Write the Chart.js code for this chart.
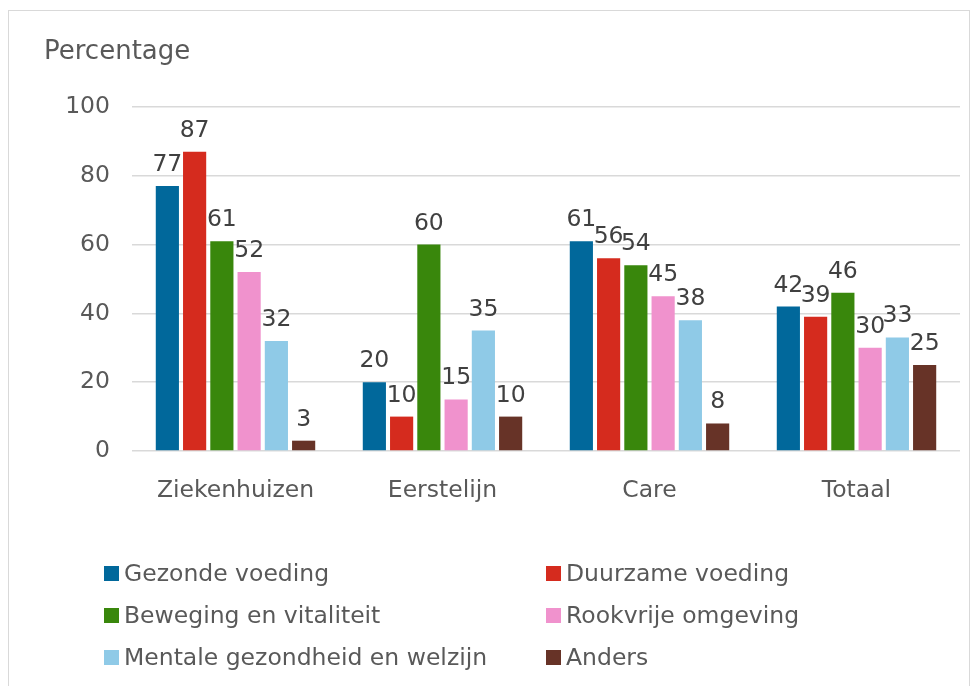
<!DOCTYPE html>
<html>
<head>
<meta charset="utf-8">
<script src="https://cdn.jsdelivr.net/npm/chart.js@4"></script>
<style>
  body { margin: 0; background: #fff; font-family: "DejaVu Sans", sans-serif; color: #595959; }
  #wrap { position: relative; width: 978px; height: 686px; overflow: hidden; }
  #frame { position: absolute; left: 8px; top: 10px; width: 960px; height: 700px; border: 1px solid #d9d9d9; pointer-events: none; }
  #title { position: absolute; left: 44px; top: 35px; font-size: 26px; line-height: 30px; }
  .item { position: absolute; display: flex; align-items: center; font-size: 23.5px; line-height: 28px; white-space: nowrap; }
  .item span.box { display: inline-block; width: 15px; height: 15px; margin-right: 5px; }
</style>
</head>
<body>
<div id="wrap">
  <canvas id="chart" width="978" height="686"></canvas>
  <div id="frame"></div>
  <div id="title">Percentage</div>
  <div id="legend"></div>
</div>
<script>
const categories = ["Ziekenhuizen", "Eerstelijn", "Care", "Totaal"];
const seriesNames = ["Gezonde voeding", "Duurzame voeding", "Beweging en vitaliteit",
  "Rookvrije omgeving", "Mentale gezondheid en welzijn", "Anders"];
const gezondeVoeding = [77, 20, 61, 42];
const duurzameVoeding = [87, 10, 56, 39];
const beweging = [61, 60, 54, 46];
const rookvrij = [52, 15, 45, 30];
const mentaal = [32, 35, 38, 33];
const anders = [3, 10, 8, 25];
const colors = ["#01689b", "#d52b1e", "#39870c", "#f092cd", "#8fcae7", "#673327"];
const yTicks = [0, 20, 40, 60, 80, 100];

const allValues = [gezondeVoeding, duurzameVoeding, beweging, rookvrij, mentaal, anders];

// labels above bars
const barLabels = {
  id: "barLabels",
  afterDatasetsDraw(chart) {
    const ctx = chart.ctx;
    ctx.save();
    ctx.font = "23.5px 'DejaVu Sans'";
    ctx.fillStyle = "#404040";
    ctx.textAlign = "center";
    ctx.textBaseline = "alphabetic";
    chart.data.datasets.forEach((ds, i) => {
      chart.getDatasetMeta(i).data.forEach((bar, j) => {
        ctx.fillText(String(ds.data[j]), bar.x, bar.y - 15);
      });
    });
    ctx.restore();
  }
};

new Chart(document.getElementById("chart"), {
  type: "bar",
  data: {
    labels: categories,
    datasets: seriesNames.map((name, i) => ({
      label: name,
      data: allValues[i],
      backgroundColor: colors[i],
      categoryPercentage: 0.79,
      barPercentage: 0.85
    }))
  },
  options: {
    responsive: false,
    animation: false,
    layout: { padding: { top: 107, right: 18, left: 0, bottom: 0 } },
    plugins: { legend: { display: false }, tooltip: { enabled: false } },
    scales: {
      x: {
        grid: { display: false },
        border: { display: false },
        ticks: { color: "#595959", font: { family: "DejaVu Sans", size: 23.5 }, padding: 18 },
        afterFit(scale) { scale.height = 235; }
      },
      y: {
        min: 0, max: 100,
        afterBuildTicks(scale) { scale.ticks = yTicks.map(v => ({ value: v })); },
        grid: { color: "#d9d9d9", lineWidth: 1.5, drawTicks: false },
        border: { display: false },
        ticks: { color: "#595959", font: { family: "DejaVu Sans", size: 23.5 }, padding: 22 },
        afterFit(scale) { scale.width = 132; }
      }
    }
  },
  plugins: [barLabels]
});

// legend in two columns
const legend = document.getElementById("legend");
const colX = [104, 546];
const rowY = [559, 601, 643];
seriesNames.forEach((name, i) => {
  const item = document.createElement("div");
  item.className = "item";
  item.style.left = colX[i % 2] + "px";
  item.style.top = rowY[Math.floor(i / 2)] + "px";
  item.innerHTML = '<span class="box" style="background:' + colors[i] + '"></span>' + name;
  legend.appendChild(item);
});
</script>
</body>
</html>
